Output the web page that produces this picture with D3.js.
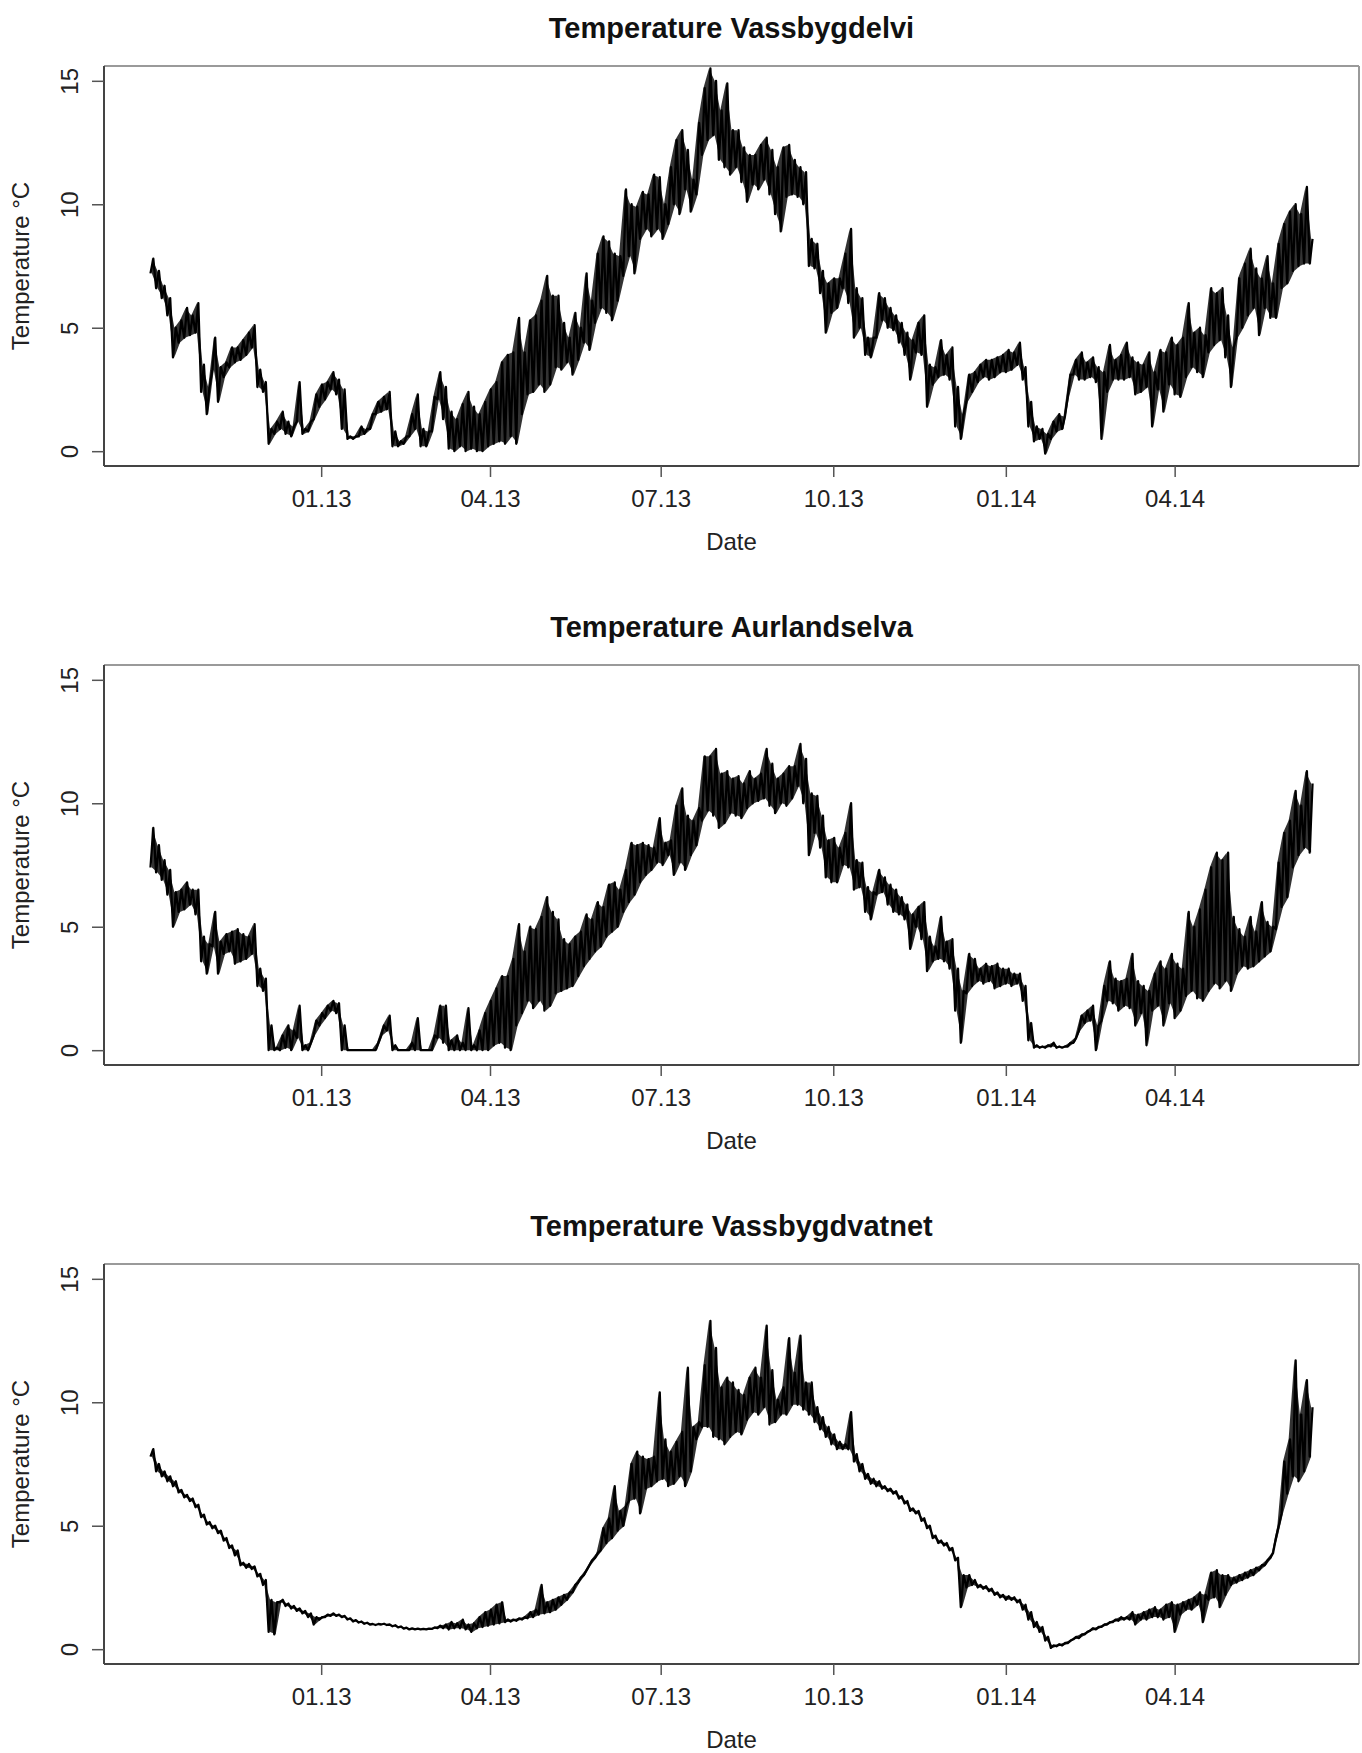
<!DOCTYPE html>
<html>
<head>
<meta charset="utf-8">
<script src="https://cdn.jsdelivr.net/npm/d3@7"></script>
<style>
  body { margin: 0; background: #fff; }
  text { font-family: "Liberation Sans", Arial, Helvetica, sans-serif; }
</style>
</head>
<body>
<svg id="chart" width="1362" height="1753"></svg>
<script>
// Logger readings, one low/high pair per 3-day interval starting 2012-10-02
const firstDay = new Date(2012, 9, 2);
const stepDays = 3;

const stations = ["Vassbygdelvi", "Aurlandselva", "Vassbygdvatnet"];

const vassbygdelviLow = [
  7.2,6.6,6.2,5.5,3.8,4.4,4.6,4.7,4.8,2.4,
  1.5,3.3,2.0,3.0,3.4,3.6,3.7,3.9,4.2,2.6,
  2.4,0.3,0.7,0.9,0.7,0.6,1.2,0.7,0.8,1.3,
  1.8,2.1,2.5,2.3,0.9,0.5,0.5,0.6,0.7,0.9,
  1.5,1.6,1.7,0.2,0.2,0.3,0.6,0.9,0.2,0.2,
  0.8,2.1,1.3,0.1,0.0,0.2,0.0,0.1,0.0,0.0,
  0.2,0.3,0.4,0.3,0.6,0.3,1.5,2.3,2.4,2.7,
  2.4,2.7,3.4,3.3,3.6,3.1,3.7,4.4,4.1,5.2,
  5.8,5.6,5.3,6.1,7.1,7.9,7.2,8.6,9.0,8.7,
  9.0,8.6,9.2,10.0,9.6,10.6,9.7,10.4,12.0,12.6,
  12.8,11.8,11.5,11.2,11.5,10.9,10.1,10.8,10.6,11.0,
  10.4,9.6,8.9,10.3,10.4,10.3,10.0,7.5,7.4,6.4,
  4.8,5.6,5.8,6.6,6.0,4.6,5.0,3.9,3.8,4.6,
  5.3,5.0,4.9,4.4,3.9,2.9,4.0,3.9,1.8,2.7,
  3.0,3.1,2.9,1.0,0.5,2.0,2.4,2.8,3.0,2.9,
  3.0,3.2,3.2,3.3,3.5,2.9,1.0,0.4,0.5,-0.1,
  0.5,0.8,0.9,2.2,3.1,2.9,2.9,3.0,2.8,0.5,
  2.4,2.9,2.9,2.9,3.0,2.3,2.4,2.6,1.0,2.5,
  1.6,2.7,2.3,2.2,3.0,3.4,3.2,3.0,4.0,4.3,
  4.5,3.8,2.6,4.6,5.0,5.5,5.8,4.7,5.8,5.4,
  5.4,6.6,6.8,7.3,7.5,7.6,7.6
];
const vassbygdelviHigh = [
  7.8,7.3,6.7,6.2,5.0,5.3,5.8,5.5,6.0,3.5,
  2.6,4.6,3.4,3.6,4.2,4.2,4.5,4.8,5.1,3.3,
  2.8,0.9,1.2,1.6,1.2,1.0,2.8,0.9,1.2,2.3,
  2.7,2.8,3.2,2.9,2.5,0.6,0.6,1.0,0.9,1.5,
  2.0,2.2,2.4,0.8,0.4,0.6,1.5,2.3,0.9,0.8,
  2.2,3.2,2.6,1.6,1.3,1.9,2.4,1.8,1.5,2.0,
  2.5,2.8,3.6,3.9,4.0,5.4,4.0,5.3,5.5,6.1,
  7.1,6.3,6.3,5.2,4.6,5.6,5.0,7.2,6.1,8.0,
  8.7,8.5,8.0,7.9,10.6,10.0,9.9,10.5,10.4,11.2,
  11.1,10.0,11.5,12.6,13.0,12.2,11.0,13.3,14.7,15.5,
  15.0,13.8,14.9,13.0,13.0,12.3,12.0,12.0,12.4,12.7,
  12.2,11.5,12.3,12.4,11.8,11.5,11.3,8.6,8.4,7.3,
  6.8,7.0,7.0,8.0,9.0,6.6,6.2,4.6,4.6,6.4,
  6.2,5.8,5.5,5.2,4.8,4.5,5.2,5.5,3.5,3.4,
  4.5,3.9,4.2,2.6,1.5,3.1,3.2,3.5,3.7,3.7,
  3.8,3.9,4.1,4.0,4.4,3.4,2.0,1.0,0.9,0.7,
  1.2,1.5,1.4,3.1,3.7,4.0,3.6,3.8,3.4,3.2,
  4.3,3.7,3.9,4.4,3.8,3.6,3.5,4.0,3.2,4.1,
  4.0,4.6,4.3,4.6,6.0,4.8,5.0,4.7,6.6,6.4,
  6.6,5.5,4.2,7.0,7.6,8.2,7.4,7.0,7.9,6.8,
  8.4,9.2,9.7,10.0,9.6,10.7,8.6
];

const aurlandselvaLow = [
  7.4,7.2,6.9,6.3,5.0,5.6,5.7,5.9,5.5,3.6,
  3.1,4.2,3.1,3.9,4.0,3.5,3.6,3.7,3.9,2.6,
  2.4,0.0,0.0,0.0,0.1,0.0,0.5,0.0,0.0,0.6,
  1.0,1.3,1.6,1.5,0.0,0.0,0.0,0.0,0.0,0.0,
  0.0,0.6,0.8,0.0,0.0,0.0,0.0,0.0,0.0,0.0,
  0.0,0.5,0.3,0.0,0.0,0.0,0.0,0.0,0.0,0.0,
  0.0,0.2,0.3,0.1,0.0,1.0,1.5,2.0,1.7,2.0,
  1.6,1.8,2.3,2.4,2.5,2.6,3.0,3.4,3.7,4.0,
  4.2,4.6,4.8,5.0,5.6,6.0,6.3,6.8,7.1,7.3,
  7.6,7.5,7.9,7.1,7.6,7.3,7.9,8.3,9.3,9.7,
  9.5,9.0,9.2,9.6,9.5,9.4,9.8,10.0,10.1,10.2,
  9.9,9.6,10.0,9.9,10.2,10.7,10.0,7.9,8.8,8.2,
  7.0,6.8,6.8,7.5,7.4,6.5,6.6,5.6,5.3,6.3,
  6.4,5.9,5.6,5.5,5.3,4.1,5.0,4.5,3.2,3.6,
  3.7,3.6,3.3,1.6,0.3,2.3,2.6,2.8,2.7,2.8,
  2.5,2.6,2.7,2.6,2.7,2.0,0.4,0.1,0.1,0.1,
  0.15,0.1,0.1,0.15,0.3,0.8,1.1,1.2,0.0,1.2,
  2.0,1.9,1.6,1.8,1.7,1.0,1.5,0.2,1.6,1.8,
  1.0,1.9,1.3,1.6,2.2,2.4,2.1,2.0,2.4,2.7,
  2.5,2.8,2.4,3.1,3.4,3.3,3.4,3.6,3.8,4.0,
  4.9,5.8,6.2,7.4,7.9,8.2,8.0
];
const aurlandselvaHigh = [
  9.0,8.3,7.7,7.3,6.4,6.5,6.8,6.5,6.5,4.6,
  4.3,5.6,4.4,4.7,4.8,4.9,4.7,4.6,5.1,3.3,
  2.9,1.0,0.1,0.6,1.0,0.8,1.8,0.2,0.3,1.2,
  1.5,1.8,2.0,1.9,1.0,0.0,0.0,0.0,0.0,0.0,
  0.3,1.0,1.4,0.2,0.0,0.0,0.3,1.3,0.0,0.0,
  0.6,1.8,1.8,0.4,0.6,0.3,1.7,0.2,0.8,1.5,
  2.0,2.5,3.0,3.0,3.7,5.1,4.0,5.0,4.9,5.4,
  6.2,5.6,5.3,4.5,4.3,4.6,4.8,5.5,5.3,6.0,
  5.8,6.7,6.8,6.5,7.3,8.4,8.3,8.4,8.3,8.2,
  9.4,8.4,8.5,9.9,10.6,9.5,9.3,9.8,11.9,11.9,
  12.2,11.2,11.3,11.0,11.1,10.8,11.3,11.0,11.2,12.2,
  11.6,11.0,11.2,11.5,11.5,12.4,11.8,10.4,10.3,9.5,
  8.5,8.6,8.2,8.8,10.0,7.7,7.6,6.6,6.4,7.3,
  7.0,6.7,6.5,6.2,5.9,5.5,5.8,6.0,4.6,4.2,
  5.4,4.4,4.5,3.3,2.4,3.9,3.7,3.3,3.5,3.4,
  3.5,3.3,3.3,3.1,3.1,2.6,1.1,0.2,0.15,0.2,
  0.3,0.15,0.15,0.3,0.5,1.4,1.6,1.8,1.0,2.6,
  3.6,2.9,2.8,2.9,3.9,2.8,2.6,2.4,3.1,3.6,
  3.3,3.9,3.5,3.3,5.6,5.0,5.7,6.5,7.4,8.0,
  7.7,8.0,5.4,4.9,4.6,5.4,4.8,6.0,5.2,5.0,
  7.6,8.8,9.3,10.5,9.9,11.3,10.8
];

const vassbygdvatnetLow = [
  7.8,7.2,7.0,6.8,6.6,6.35,6.15,6.0,5.75,5.35,
  5.05,4.9,4.7,4.4,4.1,3.8,3.4,3.3,3.25,2.95,
  2.6,0.7,0.6,1.9,1.75,1.65,1.55,1.45,1.3,1.0,
  1.2,1.3,1.35,1.35,1.3,1.2,1.12,1.08,1.03,1.0,
  0.98,1.0,0.98,0.93,0.88,0.83,0.8,0.8,0.8,0.8,
  0.82,0.85,0.85,0.8,0.85,0.85,0.8,0.7,0.85,0.9,
  0.95,1.0,1.05,1.1,1.12,1.15,1.2,1.25,1.3,1.4,
  1.45,1.5,1.6,1.8,2.0,2.3,2.7,3.0,3.4,3.7,
  4.0,4.3,4.5,4.8,5.0,6.0,6.1,5.5,6.5,6.6,
  6.8,6.9,6.6,6.7,7.0,6.6,7.2,8.5,9.0,9.0,
  8.6,8.5,8.3,8.6,8.8,8.7,9.3,9.6,9.5,9.8,
  9.1,9.2,9.5,9.5,9.9,9.9,9.7,9.5,9.2,8.9,
  8.6,8.3,8.1,8.1,8.1,7.6,7.2,6.9,6.7,6.6,
  6.5,6.4,6.3,6.1,5.9,5.6,5.5,5.2,4.9,4.5,
  4.3,4.2,4.0,3.6,1.7,2.5,2.6,2.5,2.45,2.35,
  2.2,2.1,2.0,2.0,1.9,1.6,1.2,0.9,0.7,0.35,
  0.05,0.12,0.15,0.25,0.4,0.45,0.6,0.75,0.8,0.9,
  1.0,1.1,1.15,1.2,1.2,1.0,1.2,1.2,1.3,1.3,
  1.2,1.3,0.7,1.4,1.6,1.6,1.8,1.1,2.0,2.1,
  1.7,2.2,2.6,2.7,2.8,2.9,3.0,3.2,3.4,3.7,
  4.5,5.5,6.3,7.0,6.8,7.2,7.8
];
const vassbygdvatnetHigh = [
  8.1,7.5,7.2,7.0,6.8,6.45,6.25,6.1,5.85,5.45,
  5.15,5.0,4.8,4.5,4.2,4.0,3.5,3.45,3.35,3.05,
  2.8,2.0,1.9,2.0,1.85,1.75,1.65,1.55,1.45,1.3,
  1.3,1.4,1.45,1.4,1.35,1.25,1.18,1.12,1.07,1.02,
  1.02,1.03,1.0,0.97,0.92,0.87,0.84,0.83,0.82,0.83,
  0.88,0.95,1.0,1.1,1.05,1.2,1.0,1.05,1.3,1.5,
  1.6,1.8,1.9,1.2,1.2,1.25,1.3,1.5,1.6,2.6,
  1.9,2.0,2.1,2.2,2.3,2.6,2.9,3.2,3.6,3.9,
  4.9,5.3,6.6,5.6,5.8,7.5,8.0,7.8,7.7,7.8,
  10.4,8.5,8.0,8.4,8.8,11.4,9.0,9.2,11.5,13.3,
  12.2,10.6,11.0,10.8,10.5,10.3,11.0,11.4,11.0,13.1,
  11.3,10.1,10.6,12.6,11.2,12.7,10.8,10.8,9.8,9.4,
  9.0,8.7,8.4,8.3,9.6,7.9,7.5,7.1,6.9,6.8,
  6.6,6.5,6.4,6.2,6.0,5.7,5.6,5.3,5.0,4.6,
  4.4,4.3,4.1,3.7,3.0,3.0,2.8,2.6,2.55,2.45,
  2.3,2.2,2.15,2.1,2.0,1.8,1.5,1.1,0.9,0.5,
  0.15,0.2,0.25,0.35,0.5,0.6,0.7,0.85,0.9,1.0,
  1.1,1.2,1.3,1.3,1.5,1.4,1.5,1.6,1.7,1.6,
  1.8,1.9,1.8,1.9,2.0,2.1,2.3,2.2,3.1,3.2,
  3.0,3.0,2.9,3.0,3.1,3.2,3.3,3.4,3.6,3.9,
  5.0,7.6,8.5,11.7,9.5,10.9,9.8
];

const tickDates = ["2013-01-01", "2013-04-01", "2013-07-01", "2013-10-01", "2014-01-01", "2014-04-01"];
const yTicks = [0, 5, 10, 15];
const yLimits = [0, 15];

// Lows and highs alternate half an interval apart, tracing the daily swing
function toPoints(lows, highs) {
  const pts = [];
  lows.forEach((lo, i) => {
    const t = d3.timeDay.offset(firstDay, i * stepDays);
    pts.push({ t: t, v: lo });
    pts.push({ t: d3.timeHour.offset(t, stepDays * 12), v: highs[i] });
  });
  return pts;
}
// Envelope of each interval, centred between its low and high reading
function toRange(lows, highs) {
  return lows.map((lo, i) => ({
    t: d3.timeHour.offset(d3.timeDay.offset(firstDay, i * stepDays), stepDays * 6),
    lo: lo,
    hi: highs[i]
  }));
}

const panels = [
  { name: stations[0], points: toPoints(vassbygdelviLow, vassbygdelviHigh), range: toRange(vassbygdelviLow, vassbygdelviHigh) },
  { name: stations[1], points: toPoints(aurlandselvaLow, aurlandselvaHigh), range: toRange(aurlandselvaLow, aurlandselvaHigh) },
  { name: stations[2], points: toPoints(vassbygdvatnetLow, vassbygdvatnetHigh), range: toRange(vassbygdvatnetLow, vassbygdvatnetHigh) }
];

const svg = d3.select("#chart");
const left = 104, right = 1359, plotH = 400;
const panelTop = [66, 665, 1264];

// time axis padded 4% on each side of the data span
const allTimes = panels.flatMap(p => p.points.map(d => d.t));
const [t0, t1] = d3.extent(allTimes);
const pad = (t1 - t0) * 0.04;
const x = d3.scaleTime()
  .domain([new Date(+t0 - pad), new Date(+t1 + pad)])
  .range([left, right]);

const yPad = (yLimits[1] - yLimits[0]) * 0.04;
const fmt = d3.timeFormat("%m.%y");
const parse = d3.timeParse("%Y-%m-%d");

panels.forEach((p, k) => {
  const top = panelTop[k];
  const y = d3.scaleLinear()
    .domain([yLimits[0] - yPad, yLimits[1] + yPad])
    .range([top + plotH, top]);
  const g = svg.append("g");

  // frame
  g.append("line").attr("x1", left).attr("x2", right).attr("y1", top).attr("y2", top)
    .attr("stroke", "#9a9a9a").attr("stroke-width", 2);
  g.append("line").attr("x1", right).attr("x2", right).attr("y1", top).attr("y2", top + plotH)
    .attr("stroke", "#9a9a9a").attr("stroke-width", 2);

  // daily range band, then the trace over it
  const band = d3.area().x(d => x(d.t)).y0(d => y(d.lo)).y1(d => y(d.hi));
  g.append("path")
    .datum(p.range)
    .attr("d", band)
    .attr("fill", "#000")
    .attr("fill-opacity", 0.8)
    .attr("stroke", "none");

  const line = d3.line().x(d => x(d.t)).y(d => y(d.v));
  g.append("path")
    .datum(p.points)
    .attr("d", line)
    .attr("fill", "none")
    .attr("stroke", "#000")
    .attr("stroke-width", 2.3)
    .attr("stroke-linejoin", "round");

  // y axis
  const yAxis = d3.axisLeft(y).tickValues(yTicks).tickSize(12).tickFormat(d3.format("d"));
  const ya = g.append("g").attr("transform", `translate(${left},0)`).call(yAxis);
  ya.select(".domain").attr("d", `M0,${top}V${top + plotH}`).attr("stroke", "#444").attr("stroke-width", 2);
  ya.selectAll(".tick line").attr("stroke", "#555").attr("stroke-width", 1.5);
  ya.selectAll(".tick text")
    .attr("x", null).attr("dy", null)
    .attr("transform", "translate(-26,0) rotate(-90)")
    .attr("text-anchor", "middle")
    .attr("fill", "#222")
    .style("font-size", "24px");

  // x axis
  const xAxis = d3.axisBottom(x).tickValues(tickDates.map(parse)).tickSize(11).tickFormat(fmt);
  const xa = g.append("g").attr("transform", `translate(0,${top + plotH})`).call(xAxis);
  xa.select(".domain").attr("d", `M${left},0H${right}`).attr("stroke", "#444").attr("stroke-width", 2);
  xa.selectAll(".tick line").attr("stroke", "#555").attr("stroke-width", 1.5);
  xa.selectAll(".tick text")
    .attr("y", 41).attr("dy", null)
    .attr("fill", "#222")
    .style("font-size", "24px");

  // labels
  g.append("text")
    .attr("x", (left + right) / 2).attr("y", top - 28)
    .attr("text-anchor", "middle")
    .attr("font-weight", "bold")
    .style("font-size", "29px")
    .attr("fill", "#111")
    .text("Temperature " + p.name);
  g.append("text")
    .attr("x", (left + right) / 2).attr("y", top + 484)
    .attr("text-anchor", "middle")
    .style("font-size", "24px")
    .attr("fill", "#222")
    .text("Date");
  g.append("text")
    .attr("transform", `translate(29,${top + plotH / 2}) rotate(-90)`)
    .attr("text-anchor", "middle")
    .style("font-size", "24px")
    .attr("fill", "#222")
    .text("Temperature °C");
});
</script>
</body>
</html>
